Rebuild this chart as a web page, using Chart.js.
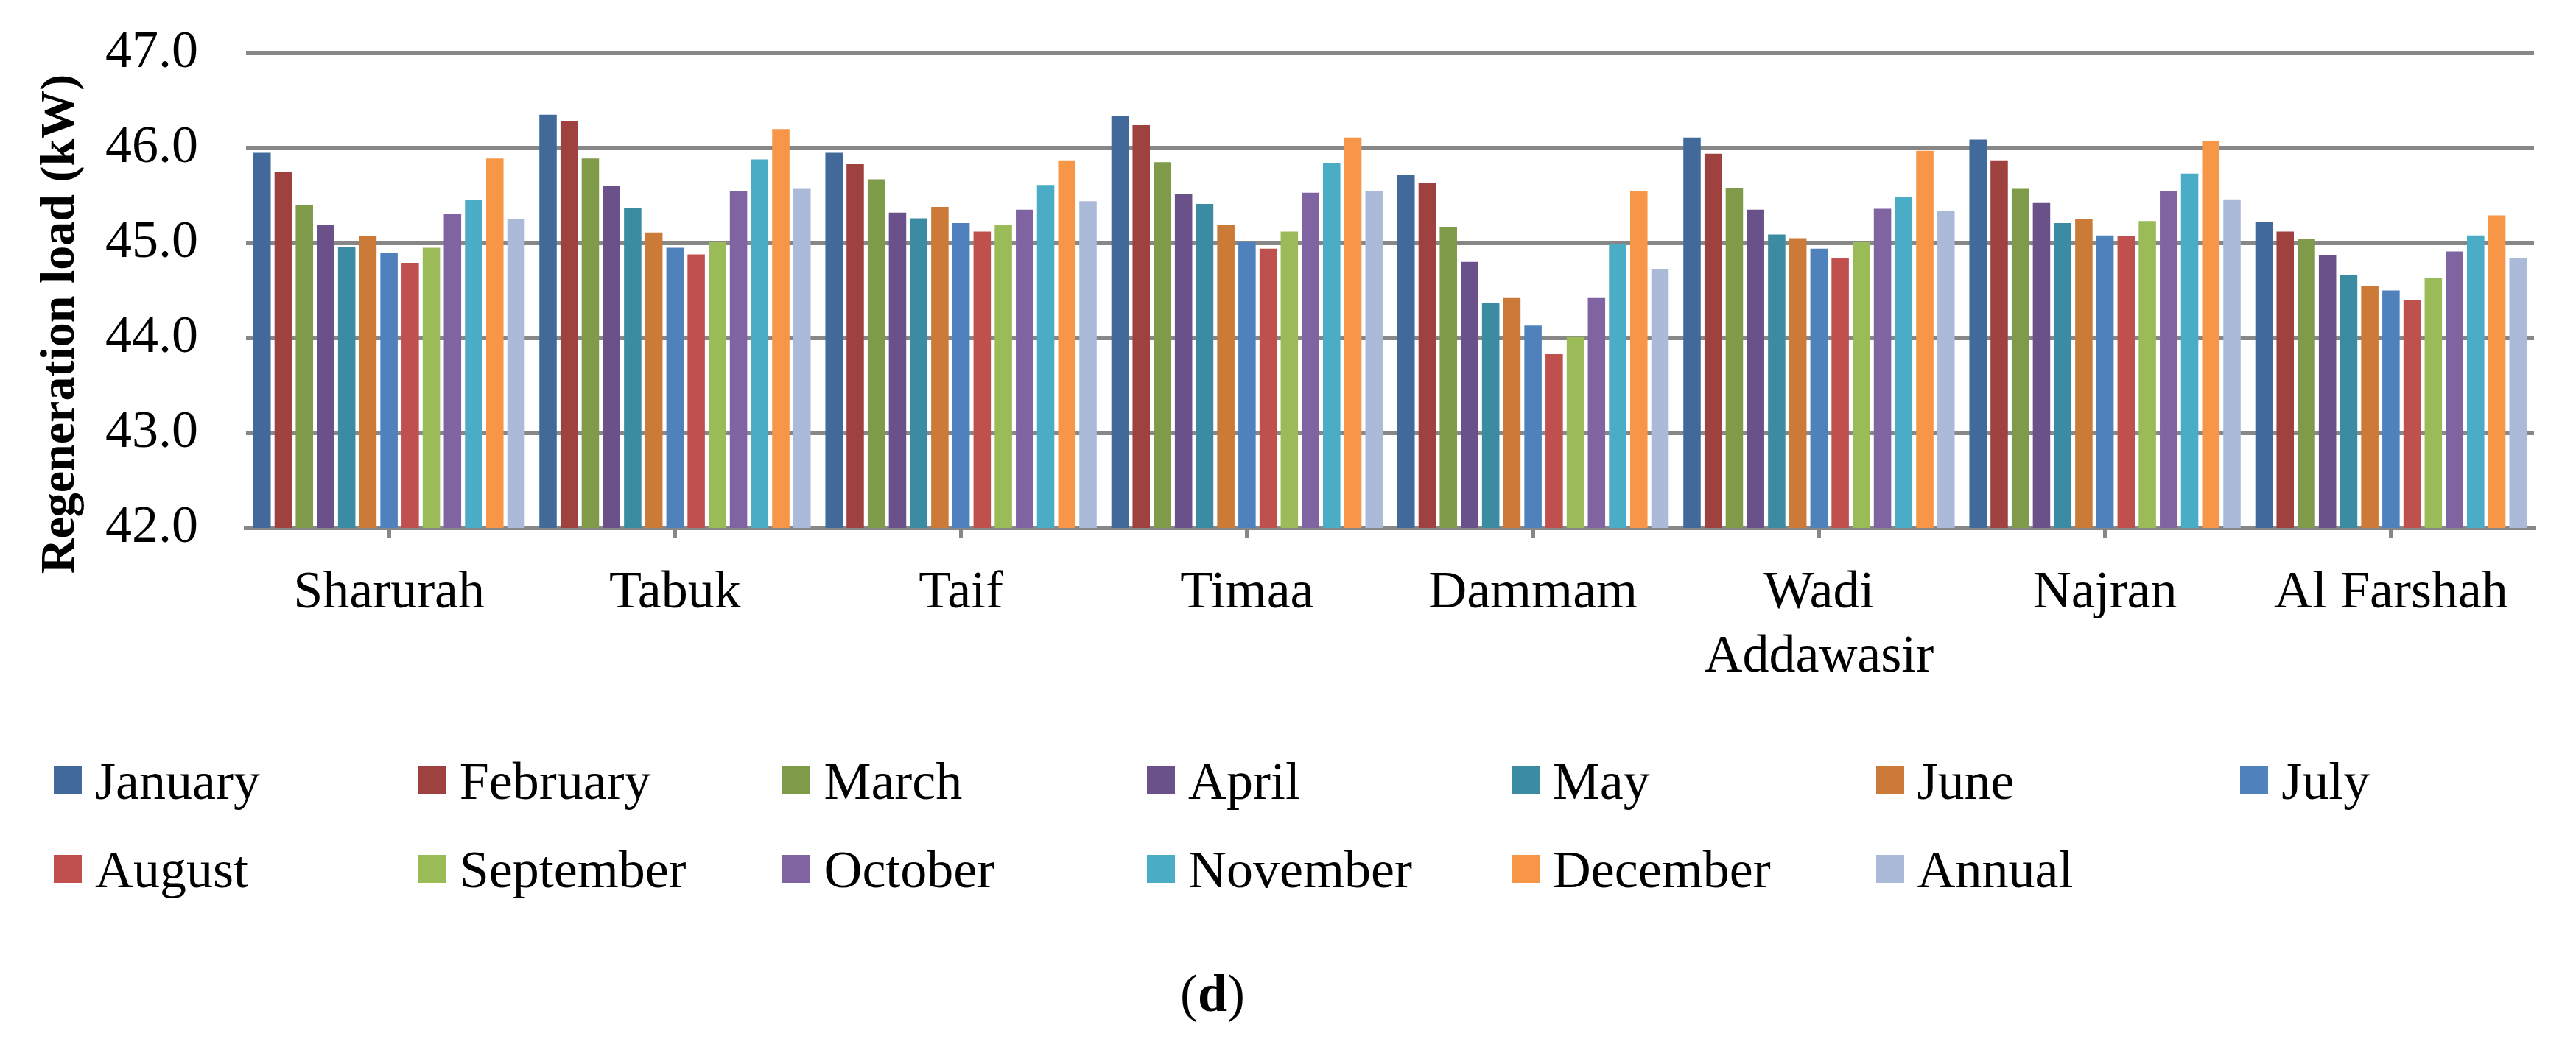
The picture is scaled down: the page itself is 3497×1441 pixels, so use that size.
<!DOCTYPE html>
<html>
<head>
<meta charset="utf-8">
<script src="https://cdn.jsdelivr.net/npm/chart.js@4.4.1/dist/chart.umd.min.js"></script>
<style>
  html, body { margin: 0; padding: 0; background: #fff; }
  #wrap { position: relative; width: 3497px; height: 1441px; overflow: hidden; }
  #chart { position: absolute; left: 0; top: 0; }
  .legend-item { position: absolute; font: 72px "Liberation Serif", serif; line-height: 72px; color: #000; white-space: nowrap; }
  .legend-box { position: absolute; width: 38px; height: 38px; }
  #caption { position: absolute; left: 1602px; top: 1313px; font: 72px "Liberation Serif", serif; line-height: 72px; }
  #ytitle {
    position: absolute; left: -322px; top: 407px; width: 800px; height: 66px;
    font: bold 66px "Liberation Serif", serif; line-height: 66px; text-align: center;
    white-space: nowrap; transform: rotate(-90deg);
  }
</style>
</head>
<body>
<div id="wrap">
  <canvas id="chart" width="3497" height="1441"></canvas>
  <div id="ytitle">Regeneration load (kW)</div>
  <div id="legend"></div>
  <div id="caption">(<b>d</b>)</div>
</div>
<script>
const cities = ['Sharurah', 'Tabuk', 'Taif', 'Timaa', 'Dammam', ['Wadi', 'Addawasir'], 'Najran', 'Al Farshah']
const yTicks = [42, 43, 44, 45, 46, 47]

const january   = [45.95, 46.35, 45.95, 46.34, 45.72, 46.11, 46.09, 45.22]
const february  = [45.75, 46.28, 45.83, 46.24, 45.63, 45.94, 45.87, 45.12]
const march     = [45.40, 45.89, 45.67, 45.85, 45.17, 45.58, 45.57, 45.04]
const april     = [45.19, 45.60, 45.32, 45.52, 44.80, 45.35, 45.42, 44.87]
const may       = [44.96, 45.37, 45.26, 45.41, 44.37, 45.09, 45.21, 44.66]
const june      = [45.07, 45.11, 45.38, 45.19, 44.42, 45.05, 45.25, 44.55]
const july      = [44.90, 44.95, 45.21, 45.01, 44.13, 44.94, 45.08, 44.50]
const august    = [44.79, 44.88, 45.12, 44.94, 43.83, 44.84, 45.07, 44.40]
const september = [44.95, 45.01, 45.19, 45.12, 44.01, 45.01, 45.23, 44.63]
const october   = [45.31, 45.55, 45.35, 45.53, 44.42, 45.36, 45.55, 44.91]
const november  = [45.45, 45.88, 45.61, 45.84, 44.99, 45.48, 45.73, 45.08]
const december  = [45.89, 46.20, 45.87, 46.11, 45.55, 45.97, 46.07, 45.29]
const annual    = [45.25, 45.57, 45.44, 45.55, 44.72, 45.34, 45.46, 44.84]

const seriesNames = ['January', 'February', 'March', 'April', 'May', 'June', 'July',
                     'August', 'September', 'October', 'November', 'December', 'Annual']
const seriesData  = [january, february, march, april, may, june, july,
                     august, september, october, november, december, annual]
const seriesColors = ['#416A9B', '#9F413F', '#7F9A49', '#6A5189', '#3B8BA3', '#CC7A37', '#4F81BD',
                      '#C0504D', '#9BBB59', '#8064A2', '#4BACC6', '#F79646', '#ABBAD8']

const GRID = '#878787'
const FONT = '"Liberation Serif", "Times New Roman", serif'

Chart.defaults.font.family = FONT
Chart.defaults.color = '#000'

const datasets = seriesNames.map((name, i) => ({
  label: name,
  data: seriesData[i],
  backgroundColor: seriesColors[i],
  borderWidth: 0,
  categoryPercentage: 0.962,
  barPercentage: 0.82,
}))

new Chart(document.getElementById('chart'), {
  type: 'bar',
  data: { labels: cities, datasets },
  options: {
    responsive: false,
    animation: false,
    devicePixelRatio: 1,
    layout: { padding: { left: 0, top: 72, right: 57, bottom: 0 } },
    plugins: { legend: { display: false }, tooltip: { enabled: false } },
    scales: {
      x: {
        afterFit: s => { s.height = 724; s.paddingLeft = 0; s.paddingRight = 0 },
        grid: { offset: false, drawOnChartArea: false, drawTicks: true, tickLength: 14, color: GRID, lineWidth: 5 },
        border: { display: true, color: GRID, width: 6 },
        ticks: { font: { size: 72 }, padding: 32, maxRotation: 0, autoSkip: false, color: '#000' },
      },
      y: {
        min: yTicks[0], max: yTicks[yTicks.length - 1],
        afterFit: s => { s.width = 334; s.paddingTop = 0; s.paddingBottom = 0 },
        afterBuildTicks: s => { s.ticks = yTicks.map(v => ({ value: v })) },
        grid: { color: GRID, lineWidth: 6, drawTicks: false },
        border: { display: false },
        ticks: { font: { size: 72 }, padding: 65, color: '#000', callback: v => v.toFixed(1) },
      },
    },
  },
})

// legend, laid out in fixed columns like the original
const legend = document.getElementById('legend')
seriesNames.forEach((name, i) => {
  const col = i % 7, row = Math.floor(i / 7)
  const x = 73 + col * 494.7
  const y = 1041 + row * 120
  const box = document.createElement('div')
  box.className = 'legend-box'
  box.style.left = x + 'px'
  box.style.top = y + 'px'
  box.style.background = seriesColors[i]
  legend.appendChild(box)
  const txt = document.createElement('div')
  txt.className = 'legend-item'
  txt.style.left = (x + 56) + 'px'
  txt.style.top = (y - 16) + 'px'
  txt.textContent = name
  legend.appendChild(txt)
})
</script>
</body>
</html>
